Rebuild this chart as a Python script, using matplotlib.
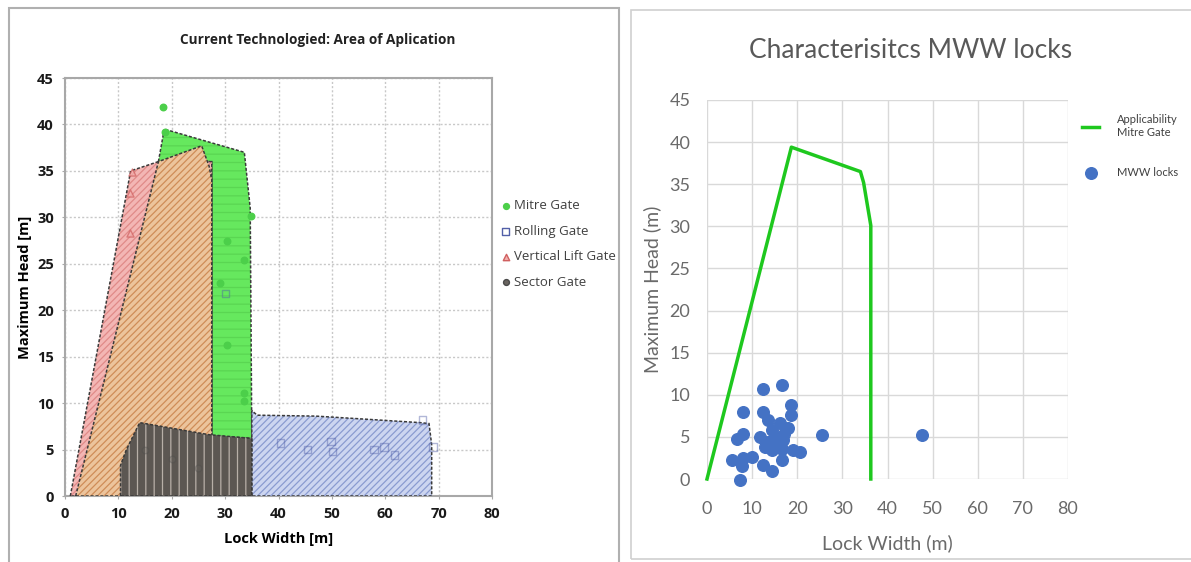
import matplotlib
matplotlib.use("Agg")
import matplotlib.pyplot as plt
from matplotlib.patches import Polygon, Rectangle

# ---------------- data: left chart (areas of application) ----------------
mitre_area_x = [17.5, 18.6, 33.6, 34.7, 35.0, 27.5, 27.5]
mitre_area_y = [36.0, 39.5, 37.0, 31.0, 6.2, 6.5, 36.0]
vlift_area_x = [1.0, 12.3, 17.5, 27.5, 27.5]
vlift_area_y = [0.0, 35.0, 36.0, 36.0, 0.0]
overlap_area_x = [2.0, 17.5, 25.6, 27.0, 27.5, 27.5]
overlap_area_y = [0.0, 36.0, 37.7, 35.5, 34.0, 0.0]
rolling_area_x = [35.0, 35.0, 36.0, 47.0, 55.5, 66.5, 68.2, 68.7, 68.7]
rolling_area_y = [0.0, 9.2, 8.7, 8.6, 8.3, 7.9, 7.8, 5.5, 0.0]
sector_area_x = [10.4, 10.4, 11.5, 14.0, 27.0, 35.0, 35.0]
sector_area_y = [0.0, 3.3, 5.0, 7.9, 6.6, 6.2, 0.0]

mitre_pts_x = [18.4, 18.8, 34.8, 30.4, 33.5, 29.1, 30.4, 33.5, 33.6]
mitre_pts_y = [41.9, 39.2, 30.1, 27.4, 25.4, 22.9, 16.3, 11.1, 10.2]
rolling_pts_x = [30.1, 40.4, 45.4, 49.8, 50.1, 57.9, 59.8, 61.7, 67.0, 68.9]
rolling_pts_y = [21.8, 5.7, 5.0, 5.85, 4.8, 5.0, 5.3, 4.4, 8.2, 5.3]
vlift_pts_x = [12.5, 12.2, 12.2]
vlift_pts_y = [34.9, 32.6, 28.3]
sector_pts_x = [15.0, 20.0, 25.0]
sector_pts_y = [5.0, 4.0, 3.0]

left_title = "Current Technologied: Area of Aplication"
left_xlabel = "Lock Width [m]"
left_ylabel = "Maximum Head [m]"

# ---------------- data: right chart (MWW locks) ----------------
mitre_line_x = [0.0, 18.7, 34.0, 34.7, 36.3, 36.3]
mitre_line_y = [0.0, 39.4, 36.5, 35.2, 30.1, 0.0]
mww_x = [12.5, 16.6, 7.9, 12.5, 18.6, 18.6, 13.6, 16.2, 18.0, 8.0, 6.6, 11.8,
         13.6, 15.1, 16.9, 14.3, 16.6, 20.6, 19.1, 25.4, 5.5, 8.0, 9.9, 7.7,
         12.5, 14.3, 7.3, 16.6, 12.9, 15.5, 14.5, 17.0, 47.6]
mww_y = [10.65, 11.2, 7.9, 8.0, 8.8, 7.6, 7.0, 6.6, 6.0, 5.4, 4.8, 5.0,
         4.4, 5.0, 4.6, 3.4, 3.6, 3.2, 3.4, 5.2, 2.3, 2.5, 2.65, 1.5,
         1.7, 0.9, -0.1, 2.3, 3.8, 4.0, 5.8, 5.3, 5.2]

right_title = "Characterisitcs MWW locks"
right_xlabel = "Lock Width (m)"
right_ylabel = "Maximum Head (m)"

x_ticks = [0, 10, 20, 30, 40, 50, 60, 70, 80]
y_ticks = [0, 5, 10, 15, 20, 25, 30, 35, 40, 45]

W, H = 1191, 562
fig = plt.figure(figsize=(W / 100, H / 100), dpi=100)
fig.patch.set_facecolor("white")

def fx(px):
    return px / W

def fy(py):
    return 1 - py / H

# panel frames
fig.patches.append(Rectangle((fx(9), fy(565)), fx(619) - fx(9), fy(8) - fy(565),
                             transform=fig.transFigure, fill=False,
                             edgecolor="#b0b0b0", linewidth=1.5))
fig.patches.append(Rectangle((fx(631), fy(559)), fx(1195) - fx(631), fy(10) - fy(559),
                             transform=fig.transFigure, fill=False,
                             edgecolor="#d0d0d0", linewidth=1.2))

# ---------------- left chart ----------------
axL = fig.add_axes([fx(65), fy(496), fx(492) - fx(65), fy(78) - fy(496)])
axL.set_xlim(0, 80)
axL.set_ylim(0, 45)
axL.set_xticks(x_ticks)
axL.set_yticks(y_ticks)
for s in axL.spines.values():
    s.set_color("#a8a8a8")
    s.set_linewidth(1.5)
axL.grid(True, linestyle=(0, (1.5, 1.5)), color="#c8c8c8", linewidth=1.0)
axL.set_axisbelow(True)
axL.tick_params(length=2, color="#a8a8a8", labelsize=10.5, pad=6)
for lab in axL.get_xticklabels() + axL.get_yticklabels():
    lab.set_fontweight("bold")
    lab.set_fontfamily("Open Sans")
    lab.set_color("#1a1a1a")

def area(ax, xs, ys, face, hatch, hcolor, z):
    pts = list(zip(xs, ys))
    ax.add_patch(Polygon(pts, closed=True, facecolor=face, edgecolor="none", zorder=z))
    ax.add_patch(Polygon(pts, closed=True, fill=False, hatch=hatch, edgecolor=hcolor,
                         linewidth=0, zorder=z + 0.1))
    ax.add_patch(Polygon(pts, closed=True, fill=False, edgecolor="#3a3a3a",
                         linewidth=1.1, linestyle=(0, (2, 1.2)), zorder=z + 0.2))

plt.rcParams["hatch.linewidth"] = 0.9
area(axL, mitre_area_x, mitre_area_y, "#66e85e", "--", "#5ad652", 2)
area(axL, vlift_area_x, vlift_area_y, "#f3b6b4", "/////", "#e08a88", 3)
area(axL, overlap_area_x, overlap_area_y, "#ecc49c", "/////", "#cf8c58", 4)
area(axL, rolling_area_x, rolling_area_y, "#ccd5f0", "/////", "#8a9bd0", 5)
area(axL, sector_area_x, sector_area_y, "#5c5752", "||", "#b8b0a8", 6)

axL.scatter(mitre_pts_x, mitre_pts_y, s=22, color="#4ccf4a", zorder=10, label="Mitre Gate")
axL.scatter(rolling_pts_x, rolling_pts_y, s=30, marker="s", facecolor="none",
            edgecolor="#5260a8", linewidth=1.0, zorder=10, alpha=0.45, label="Rolling Gate")
axL.scatter(vlift_pts_x, vlift_pts_y, s=26, marker="^", facecolor="#f2b0ae",
            edgecolor="#d06060", linewidth=1.0, zorder=10, alpha=0.7, label="Vertical Lift Gate")
axL.scatter(sector_pts_x, sector_pts_y, s=22, marker="o", facecolor="#6a6560",
            edgecolor="#4a4a4a", linewidth=1.0, zorder=10, alpha=0.3, label="Sector Gate")

axL.set_xlabel(left_xlabel, fontsize=10.5, fontweight="bold", family="Open Sans", labelpad=8)
axL.set_ylabel(left_ylabel, fontsize=10.5, fontweight="bold", family="Open Sans", labelpad=4)
fig.text(fx(318), fy(40), left_title, ha="center", va="center", fontsize=9.8,
         fontweight="bold", family="Open Sans", color="#222222")

legL = axL.legend(loc="upper left", bbox_to_anchor=(fx(494), fy(194)),
                  bbox_transform=fig.transFigure, frameon=False, fontsize=9.5,
                  handletextpad=0.1, handlelength=1.0, labelspacing=0.95,
                  borderaxespad=0, markerscale=0.9)
for t in legL.get_texts():
    t.set_color("#404040")
    t.set_family("Open Sans")
for h in legL.legend_handles:
    h.set_alpha(1.0)

# ---------------- right chart ----------------
axR = fig.add_axes([fx(707), fy(479), fx(1068) - fx(707), fy(100) - fy(479)])
axR.set_xlim(0, 80)
axR.set_ylim(0, 45)
axR.set_xticks(x_ticks)
axR.set_yticks(y_ticks)
for s in axR.spines.values():
    s.set_visible(False)
axR.grid(True, color="#d9d9d9", linewidth=1.0)
axR.set_axisbelow(True)
axR.tick_params(axis="y", length=0, labelsize=13, labelcolor="#6a6a6a", pad=12)
axR.tick_params(axis="x", length=0, labelsize=13, labelcolor="#6a6a6a", pad=16)
for lab in axR.get_xticklabels() + axR.get_yticklabels():
    lab.set_fontfamily("Lato")

axR.plot(mitre_line_x, mitre_line_y, color="#1ec81e", linewidth=2.5, zorder=3,
         label="Applicability\nMitre Gate", clip_on=False)
axR.scatter(mww_x, mww_y, s=70, color="#4472c4", zorder=4, label="MWW locks", clip_on=False)

axR.set_xlabel(right_xlabel, fontsize=14, color="#6a6a6a", family="Lato", labelpad=12)
axR.set_ylabel(right_ylabel, fontsize=14, color="#6a6a6a", family="Lato", labelpad=6)
fig.text(fx(911), fy(50), right_title, ha="center", va="center", fontsize=19,
         color="#595959", family="Lato")

legR = axR.legend(loc="upper left", bbox_to_anchor=(fx(1078), fy(110)),
                  bbox_transform=fig.transFigure, frameon=False, fontsize=8,
                  handlelength=1.5, handletextpad=1.6, labelspacing=2.6,
                  borderaxespad=0)
for t in legR.get_texts():
    t.set_color("#404040")
    t.set_family("Lato")

fig.savefig("out.png", dpi=100)
